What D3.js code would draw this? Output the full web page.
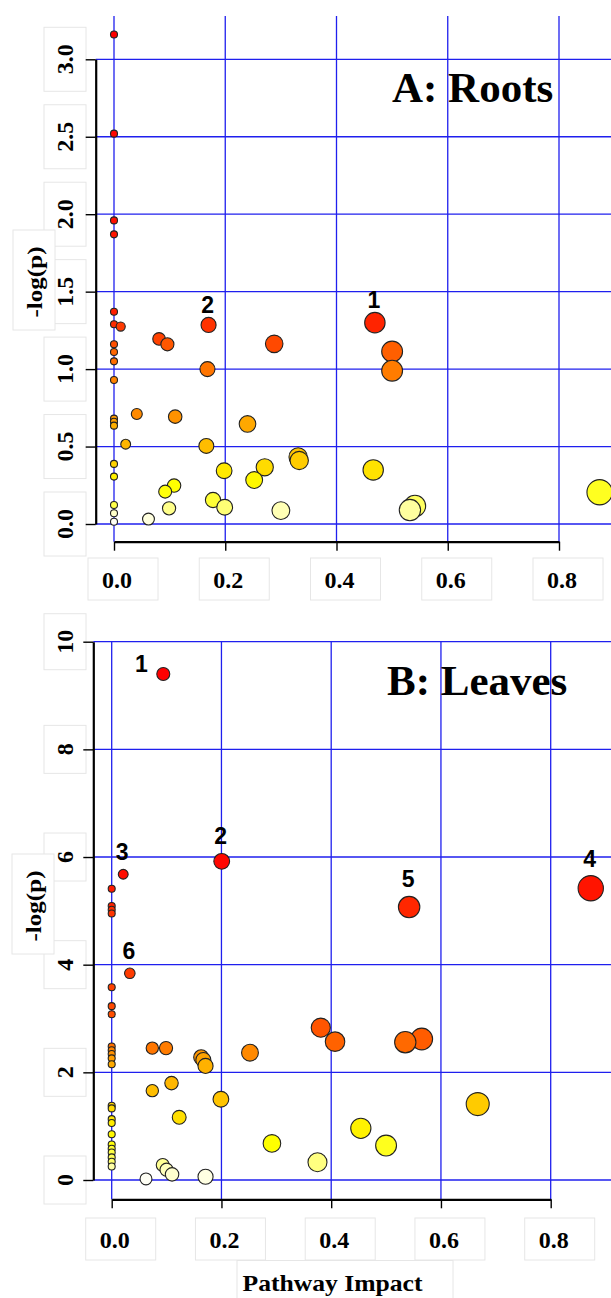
<!DOCTYPE html>
<html><head><meta charset="utf-8">
<script src="https://cdn.jsdelivr.net/npm/d3@7"></script>
<style>html,body{margin:0;padding:0;background:#fff;} svg{display:block;}</style>
</head><body>
<svg id="chart" width="611" height="1298"></svg>
<script>
// ---------- data ----------
const xTicks = [0, 0.2, 0.4, 0.6, 0.8];
const xTickLabels = ["0.0", "0.2", "0.4", "0.6", "0.8"];
const rootsYTicks = [0, 0.5, 1, 1.5, 2, 2.5, 3];
const rootsYTickLabels = ["0.0", "0.5", "1.0", "1.5", "2.0", "2.5", "3.0"];
const leavesYTicks = [0, 2, 4, 6, 8, 10];
const leavesYTickLabels = ["0", "2", "4", "6", "8", "10"];

// Panel A: Roots (the first entries carry the numbered labels)
const rootsLabels = ["1", "2"];
const rootsImpact = [0.469, 0.170,
  0, 0, 0, 0, 0, 0, 0, 0, 0, 0, 0, 0, 0, 0, 0, 0, 0, 0,
  0.012, 0.081, 0.096, 0.288, 0.168, 0.041, 0.110, 0.240, 0.021, 0.166,
  0.198, 0.271, 0.252, 0.108, 0.092, 0.178, 0.199, 0.099, 0.300, 0.062,
  0.331, 0.333, 0.500, 0.500, 0.466, 0.541, 0.532, 0.873];
const rootsLogP = [1.30, 1.285,
  3.16, 2.52, 1.96, 1.87, 1.37, 1.29, 1.16, 1.11, 1.05, 0.93, 0.68, 0.66, 0.635, 0.388, 0.306, 0.123, 0.069, 0.015,
  1.275, 1.195, 1.16, 1.163, 1.00, 0.71, 0.693, 0.646, 0.515, 0.504,
  0.344, 0.366, 0.284, 0.248, 0.209, 0.155, 0.108, 0.101, 0.086, 0.032,
  0.433, 0.41, 1.113, 0.99, 0.349, 0.116, 0.09, 0.205];

// Panel B: Leaves (the first entries carry the numbered labels)
const leavesLabels = ["1", "2", "3", "4", "5", "6"];
const leavesImpact = [0.094, 0.2005, 0.021, 0.873, 0.542, 0.033,
  0, 0, 0, 0, 0, 0, 0, 0, 0, 0, 0, 0, 0, 0, 0, 0, 0, 0, 0, 0, 0, 0, 0,
  0.074, 0.099, 0.163, 0.167, 0.171, 0.252, 0.074, 0.109, 0.199, 0.123,
  0.292, 0.093, 0.100, 0.110, 0.0625, 0.171, 0.381, 0.407, 0.535, 0.565,
  0.667, 0.454, 0.500, 0.375];
const leavesLogP = [9.40, 5.92, 5.68, 5.42, 5.07, 3.84,
  5.41, 5.09, 5.02, 4.95, 3.58, 3.23, 3.08, 2.48, 2.41, 2.34, 2.26, 2.15, 1.38, 1.33, 1.13, 1.06, 0.85, 0.66, 0.58, 0.51, 0.42, 0.34, 0.25,
  2.45, 2.45, 2.28, 2.23, 2.12, 2.365, 1.66, 1.80, 1.50, 1.165,
  0.68, 0.28, 0.19, 0.105, 0.02, 0.06, 2.83, 2.57, 2.56, 2.62,
  1.41, 0.96, 0.64, 0.33];

// ---------- helpers ----------
const svg = d3.select("#chart");
svg.append("rect").attr("width", 611).attr("height", 1298).attr("fill", "#fff");
const SERIF = "'Liberation Serif','Times New Roman',Times,serif";
const SANS = "'Liberation Sans',Arial,Helvetica,sans-serif";
const GRID = "#1f1fee";
const BOX = "#e6e6e6";

// R's heat.colors(n)
function heatColors(n) {
  const j = Math.floor(n / 4), i = n - j, out = [];
  for (let k = 0; k < i; k++) {
    const h = i > 1 ? k / (i - 1) * 60 : 0;
    out.push(d3.hsl(h, 1, 0.5).formatHex());
  }
  const s0 = 1 - 1 / (2 * j), s1 = 1 / (2 * j);
  for (let k = 0; k < j; k++) {
    const s = j > 1 ? s0 + k * (s1 - s0) / (j - 1) : s0;
    out.push(d3.hsl(60, 1, 1 - s / 2).formatHex());
  }
  return out;
}

const rScale = d3.scaleSqrt().domain([0, 1]).range([3.5, 13.3]);

function drawPanel(cfg) {
  const g = svg.append("g");
  const x = d3.scaleLinear().domain([0, 0.8]).range(cfg.xRange);
  const y = d3.scaleLinear().domain(cfg.yDomain).range(cfg.yRange);

  // faint label boxes (text boxes of the original figure)
  const boxes = g.append("g").attr("fill", "#fff").attr("stroke", BOX).attr("stroke-width", 1);
  boxes.selectAll(".yb").data(cfg.yTicks).join("rect")
    .attr("x", cfg.yLabelX - 21).attr("width", 42)
    .attr("y", (d, i) => y(d) - (cfg.yTickLabels[i].length * 4 + 20))
    .attr("height", (d, i) => 2 * (cfg.yTickLabels[i].length * 4 + 20));
  boxes.selectAll(".xb").data(xTicks).join("rect")
    .attr("x", d => x(d) + 3 - 29).attr("width", 70)
    .attr("y", cfg.xLabelBase - 30).attr("height", 42);
  boxes.append("rect").attr("x", cfg.yTitle[0] - 22).attr("y", cfg.yTitle[1] - 52)
    .attr("width", 42).attr("height", 100);
  if (cfg.xTitle) {
    boxes.append("rect").attr("x", 237).attr("y", cfg.xTitle[1] - 30).attr("width", 216).attr("height", 50);
  }

  // grid
  g.append("g").selectAll("line").data(xTicks).join("line")
    .attr("x1", d => x(d)).attr("x2", d => x(d))
    .attr("y1", cfg.gridTop).attr("y2", cfg.xAxisY)
    .attr("stroke", GRID).attr("stroke-width", 1.3);
  g.append("g").selectAll("line").data(cfg.yTicks).join("line")
    .attr("x1", cfg.yAxisX).attr("x2", 611)
    .attr("y1", d => y(d)).attr("y2", d => y(d))
    .attr("stroke", GRID).attr("stroke-width", 1.3);

  // axes
  const ya = g.append("g").attr("transform", `translate(${cfg.yAxisX},0)`)
    .call(d3.axisLeft(y).tickValues(cfg.yTicks).tickSize(10).tickSizeOuter(0).tickFormat(""));
  const xa = g.append("g").attr("transform", `translate(0,${cfg.xAxisY})`)
    .call(d3.axisBottom(x).tickValues(xTicks).tickSize(9).tickSizeOuter(0).tickFormat(""));
  [ya, xa].forEach(a => {
    a.select(".domain").attr("stroke", "#000").attr("stroke-width", 2.2);
    a.selectAll(".tick line").attr("stroke", "#000").attr("stroke-width", 1.4);
  });

  // tick labels
  g.append("g").selectAll("text").data(cfg.yTicks).join("text")
    .attr("transform", d => `translate(${cfg.yLabelX},${y(d)}) rotate(-90)`)
    .attr("text-anchor", "middle").attr("dominant-baseline", "central")
    .attr("font-family", SERIF).attr("font-weight", "bold").attr("font-size", 24)
    .text((d, i) => cfg.yTickLabels[i]);
  g.append("g").selectAll("text").data(xTicks).join("text")
    .attr("x", d => x(d) + 3).attr("y", cfg.xLabelBase)
    .attr("text-anchor", "middle")
    .attr("font-family", SERIF).attr("font-weight", "bold").attr("font-size", 24)
    .text((d, i) => xTickLabels[i]);

  // axis titles
  g.append("text")
    .attr("transform", `translate(${cfg.yTitle[0]},${cfg.yTitle[1]}) rotate(-90)`)
    .attr("text-anchor", "middle").attr("dominant-baseline", "central")
    .attr("font-family", SERIF).attr("font-weight", "bold").attr("font-size", 20)
    .attr("textLength", 71).attr("lengthAdjust", "spacingAndGlyphs")
    .text("-log(p)");
  if (cfg.xTitle) {
    g.append("text").attr("x", cfg.xTitle[0]).attr("y", cfg.xTitle[1])
      .attr("text-anchor", "middle")
      .attr("font-family", SERIF).attr("font-weight", "bold").attr("font-size", 24)
      .attr("textLength", 180).attr("lengthAdjust", "spacingAndGlyphs")
      .text("Pathway Impact");
  }

  // points
  const pts = cfg.impact.map((v, i) => ({ x: v, y: cfg.logp[i], label: cfg.labels[i] || "" }));
  const order = pts.slice().sort((a, b) => b.y - a.y);
  const cols = heatColors(pts.length);
  order.forEach((p, k) => p.color = cols[k]);
  g.append("g").selectAll("circle").data(order).join("circle")
    .attr("cx", d => x(d.x)).attr("cy", d => y(d.y)).attr("r", d => rScale(d.x))
    .attr("fill", d => d.color).attr("stroke", "#222").attr("stroke-width", 1.1);

  // numbered labels
  g.append("g").selectAll("text").data(pts.filter(p => p.label)).join("text")
    .attr("x", d => cfg.leftLabels.includes(d.label) ? x(d.x) - rScale(d.x) - 9 : x(d.x) - 1)
    .attr("y", d => cfg.leftLabels.includes(d.label) ? y(d.y) - 2 : y(d.y) - rScale(d.x) - cfg.labelGap)
    .attr("text-anchor", d => cfg.leftLabels.includes(d.label) ? "end" : "middle")
    .attr("font-family", SANS).attr("font-weight", "bold").attr("font-size", 23)
    .text(d => d.label);

  // title
  g.append("text").attr("x", cfg.title[0]).attr("y", cfg.title[1])
    .attr("font-family", SERIF).attr("font-weight", "bold").attr("font-size", 43)
    .text(cfg.titleText);
}

drawPanel({
  impact: rootsImpact, logp: rootsLogP, labels: rootsLabels, leftLabels: [],
  yDomain: [0, 3], yTicks: rootsYTicks, yTickLabels: rootsYTickLabels,
  xRange: [114, 559], yRange: [524, 59.3],
  yAxisX: 95.7, xAxisY: 541.7, gridTop: 16, yLabelX: 65, xLabelBase: 588,
  yTitle: [35, 282], title: [392, 102], titleText: "A: Roots", labelGap: 4
});
drawPanel({
  impact: leavesImpact, logp: leavesLogP, labels: leavesLabels, leftLabels: ["1"],
  yDomain: [0, 10], yTicks: leavesYTicks, yTickLabels: leavesYTickLabels,
  xRange: [111.7, 550.7], yRange: [1180, 641.7],
  yAxisX: 93.3, xAxisY: 1199.3, gridTop: 641.7, yLabelX: 65, xLabelBase: 1248,
  yTitle: [34, 906], xTitle: [332.5, 1290.5], title: [387, 695], titleText: "B: Leaves", labelGap: 9
});
</script>
</body></html>
